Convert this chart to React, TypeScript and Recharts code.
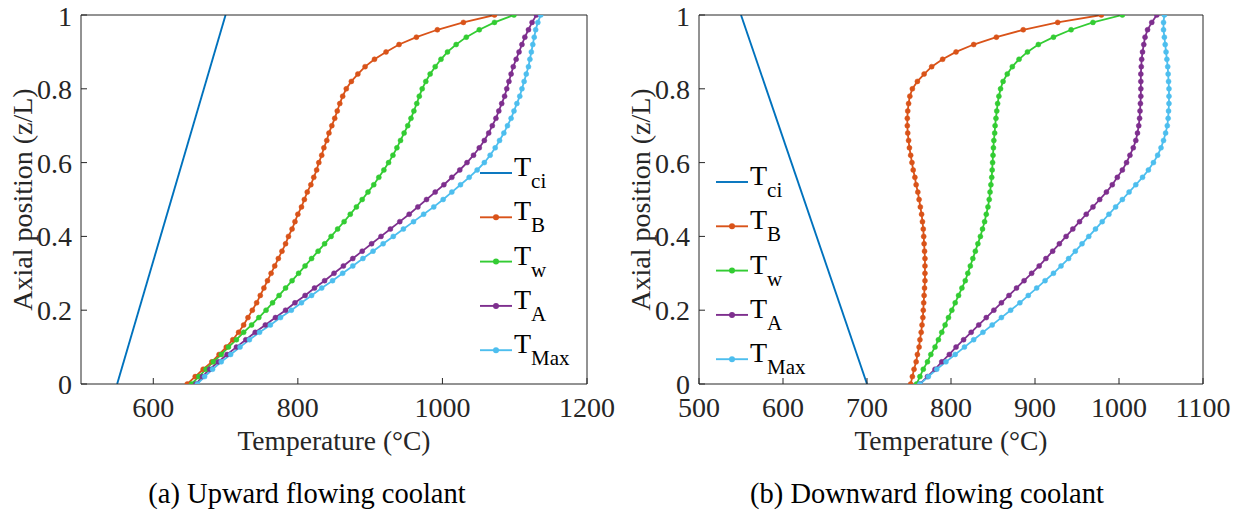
import { Legend, Line, LineChart, XAxis, YAxis } from 'recharts';

const FONT = '"Liberation Serif", "Times New Roman", serif';
const AXIS_COLOR = '#262626';

// axial positions (z/L) of the sampled points
const Z = [
  0, 0.02, 0.04, 0.06, 0.08, 0.1, 0.12, 0.14, 0.16, 0.18, 0.2, 0.22, 0.24, 0.26, 0.28, 0.3, 0.32,
  0.34, 0.36, 0.38, 0.4, 0.42, 0.44, 0.46, 0.48, 0.5, 0.52, 0.54, 0.56, 0.58, 0.6, 0.62, 0.64, 0.66,
  0.68, 0.7, 0.72, 0.74, 0.76, 0.78, 0.8, 0.82, 0.84, 0.86, 0.88, 0.9, 0.92, 0.94, 0.96, 0.98, 1,
];
const CI_Z = [0, 1];

// (a) upward flowing coolant
const UP_CI = [550, 700];
const UP_B = [
  647, 658, 669, 681, 691, 701, 710, 718, 725, 731, 737, 743, 748, 753, 758, 763, 768, 773, 778, 783,
  787, 792, 796, 800, 805, 809, 813, 818, 822, 826, 829, 833, 836, 840, 843, 847, 851, 854.5, 858, 862,
  867, 874, 883, 893, 906, 922, 940, 964, 993, 1029, 1072,
];
const UP_W = [
  653, 663, 673, 683, 694, 704, 715, 725, 736, 746, 756, 765, 774, 783, 792, 801, 810, 819, 828, 837,
  846, 855, 864, 872.5, 881, 889, 897, 905, 912, 919, 925.5, 931.5, 937, 942, 947, 952, 956.5, 960.5,
  964.5, 968, 972, 977, 983, 990, 998, 1007, 1019, 1033, 1051, 1072, 1099,
];
const UP_A = [
  659, 668, 678, 690, 702, 715, 728, 741, 755, 769, 783, 796, 810, 823, 837, 850, 863, 876, 889, 902,
  915, 928, 941, 954, 966, 978, 990, 1002, 1013, 1024, 1034, 1043, 1051, 1058, 1064, 1069, 1074, 1078,
  1082, 1086, 1089, 1092, 1095, 1098, 1102, 1106, 1110, 1114, 1119, 1124, 1130,
];
const UP_MAX = [
  661, 671, 682, 694, 707, 720, 733, 747, 762, 776, 791, 805, 819, 833, 848, 862, 876, 890, 904, 918,
  932, 946, 960, 974, 988, 1001, 1013, 1025, 1037, 1048, 1058, 1066, 1073, 1079, 1085, 1090, 1095,
  1099, 1103, 1107, 1110, 1113, 1116, 1119, 1121, 1123, 1125, 1127, 1129, 1132, 1136,
];

// (b) downward flowing coolant
const DOWN_CI = [700, 550];
const DOWN_B = [
  752, 754, 756, 758.5, 760, 762, 763, 764.5, 765.5, 766.5, 767, 767.5, 768, 768.5, 769, 769, 769, 769,
  768.5, 768, 767.5, 767, 766, 765, 763.5, 762, 760.5, 758.5, 757, 755, 753.5, 752, 750.5, 749.5, 748.5,
  748, 748, 748.5, 749.5, 751, 754, 760, 768, 777, 790, 806, 827, 854, 886, 927, 979,
];
const DOWN_W = [
  759, 763, 767, 772, 776, 781, 785, 789, 793, 797, 801, 805, 809, 813, 817, 820, 823, 826, 829, 832,
  835, 837.5, 840, 842, 844, 845.5, 846.5, 847.5, 848.5, 849, 849.5, 850, 850.5, 851, 852, 852.5, 853.5,
  854.5, 855.5, 857, 859, 862, 867, 873, 881, 891, 904, 922, 943, 969, 1004,
];
const DOWN_A = [
  763, 772, 781, 789, 798, 806, 815, 824, 833, 842, 851, 860, 869, 878, 887, 896, 905, 913, 921, 929,
  937, 945, 953, 961, 969, 977, 985, 992, 998, 1004, 1009, 1013, 1017, 1020, 1022, 1023.5, 1024.5, 1025,
  1025.5, 1026, 1026, 1026, 1026, 1026.5, 1027, 1028, 1029.5, 1031, 1034, 1039, 1045,
];
const DOWN_MAX = [
  763, 773, 783, 794, 805, 816, 827, 838, 849, 860, 871, 882, 892, 902, 912, 922, 931, 940, 948, 956,
  964, 972, 980, 988, 996, 1004, 1012, 1020, 1028, 1035, 1041, 1046, 1050, 1053, 1055.5, 1057.5, 1058.5,
  1059, 1059.5, 1059.5, 1059.5, 1059, 1058.5, 1058, 1057, 1056, 1055, 1054, 1053, 1053, 1054,
];

const Y_TICKS = [0, 0.2, 0.4, 0.6, 0.8, 1];
const UP_X_TICKS = [600, 800, 1000, 1200];
const DOWN_X_TICKS = [500, 600, 700, 800, 900, 1000, 1100];

const CI_COLOR = '#0072BD';
const SERIES = [
  { key: 'tB', sub: 'B', color: '#D95319' },
  { key: 'tW', sub: 'w', color: '#33CC33' },
  { key: 'tA', sub: 'A', color: '#7E2F8E' },
  { key: 'tMax', sub: 'Max', color: '#4DBEEE' },
];

const buildRows = (b: number[], w: number[], a: number[], m: number[]) =>
  Z.map((z, i) => ({ z, tB: b[i], tW: w[i], tA: a[i], tMax: m[i] }));
const buildCi = (ci: number[]) => CI_Z.map((z, i) => ({ z, tCi: ci[i] }));

const ROW_GAP = 44.3;
const LegendBox = () => {
  const items = [{ sub: 'ci', color: CI_COLOR, dot: false }, ...SERIES.map((s) => ({ ...s, dot: true }))];
  return (
    <svg width={150} height={230} style={{ display: 'block', overflow: 'visible' }}>
      {items.map((item, i) => {
        const y = 20 + i * ROW_GAP;
        return (
          <g key={item.sub}>
            <line x1={0} x2={32} y1={y} y2={y} stroke={item.color} strokeWidth={1.9} />
            {item.dot && <circle cx={16} cy={y} r={3} fill={item.color} />}
            <text x={34} y={y + 3} fontFamily={FONT} fontSize={28} fill="#000">
              T
              <tspan dy={12} fontSize={21}>
                {item.sub}
              </tspan>
            </text>
          </g>
        );
      })}
    </svg>
  );
};

const yTitle = (dx: number) => (props: any) => {
  const vb = props.viewBox;
  const x = vb.x + dx;
  const y = vb.y + vb.height / 2;
  return (
    <text
      x={x}
      y={y}
      transform={`rotate(-90 ${x} ${y})`}
      textAnchor="middle"
      dominantBaseline="central"
      fontFamily={FONT}
      fontSize={28}
      fill={AXIS_COLOR}
    >
      Axial position (z/L)
    </text>
  );
};

const xTitle = (props: any) => {
  const vb = props.viewBox;
  return (
    <text
      x={vb.x + vb.width / 2}
      y={vb.y + 56}
      textAnchor="middle"
      dominantBaseline="central"
      fontFamily={FONT}
      fontSize={27.5}
      fill={AXIS_COLOR}
    >
      Temperature (°C)
    </text>
  );
};

interface PanelProps {
  rows: Record<string, number>[];
  ciRows: Record<string, number>[];
  xDomain: [number, number];
  xTicks: number[];
  width: number;
  yAxisWidth: number;
  marginRight: number;
  titleDx: number;
  legendLeft: number;
  legendTop: number;
}

const Panel = ({
  rows,
  ciRows,
  xDomain,
  xTicks,
  width,
  yAxisWidth,
  marginRight,
  titleDx,
  legendLeft,
  legendTop,
}: PanelProps) => {
  const tickStyle = { fill: AXIS_COLOR, fontSize: 28, fontFamily: FONT };
  return (
    <LineChart
      width={width}
      height={521}
      data={rows}
      layout="vertical"
      margin={{ top: 10, right: marginRight, bottom: 67, left: 0 }}
    >
      <XAxis
        type="number"
        domain={xDomain}
        ticks={xTicks}
        allowDataOverflow
        tick={tickStyle}
        tickSize={-6}
        tickMargin={19}
        height={70}
        axisLine={{ stroke: AXIS_COLOR }}
        tickLine={{ stroke: AXIS_COLOR }}
        label={xTitle}
      />
      <XAxis
        xAxisId="top"
        orientation="top"
        type="number"
        domain={xDomain}
        ticks={xTicks}
        allowDataOverflow
        tick={false}
        tickSize={-6}
        height={5}
        axisLine={{ stroke: AXIS_COLOR }}
        tickLine={{ stroke: AXIS_COLOR }}
      />
      <YAxis
        type="number"
        dataKey="z"
        domain={[0, 1]}
        ticks={Y_TICKS}
        reversed
        allowDataOverflow
        tick={tickStyle}
        tickSize={-6}
        tickMargin={15}
        width={yAxisWidth}
        axisLine={{ stroke: AXIS_COLOR }}
        tickLine={{ stroke: AXIS_COLOR }}
        label={yTitle(titleDx)}
      />
      <YAxis
        yAxisId="right"
        orientation="right"
        type="number"
        domain={[0, 1]}
        ticks={Y_TICKS}
        reversed
        allowDataOverflow
        tick={false}
        tickSize={-6}
        width={10}
        axisLine={{ stroke: AXIS_COLOR }}
        tickLine={{ stroke: AXIS_COLOR }}
      />
      <Line
        data={ciRows}
        dataKey="tCi"
        type="linear"
        stroke={CI_COLOR}
        strokeWidth={1.9}
        dot={false}
        activeDot={false}
        isAnimationActive={false}
      />
      {SERIES.map((s) => (
        <Line
          key={s.key}
          dataKey={s.key}
          type="linear"
          stroke={s.color}
          strokeWidth={1.8}
          dot={{ r: 2.5, fill: s.color, stroke: s.color, strokeWidth: 0.5 }}
          activeDot={false}
          isAnimationActive={false}
        />
      ))}
      <Legend
        layout="vertical"
        align="center"
        verticalAlign="middle"
        content={() => <LegendBox />}
        wrapperStyle={{ left: legendLeft, top: legendTop, width: 150, height: 230 }}
      />
    </LineChart>
  );
};

const captionStyle = {
  position: 'absolute' as const,
  top: 478,
  width: 500,
  textAlign: 'center' as const,
  fontFamily: FONT,
  fontSize: 28.5,
  lineHeight: '32px',
  color: '#000',
};

export default function App() {
  return (
    <div
      style={{
        position: 'absolute',
        left: 0,
        top: 0,
        width: 1247,
        height: 521,
        background: '#fff',
        fontFamily: FONT,
      }}
    >
      <div style={{ position: 'absolute', left: 0, top: 0 }}>
        <Panel
          rows={buildRows(UP_B, UP_W, UP_A, UP_MAX)}
          ciRows={buildCi(UP_CI)}
          xDomain={[500, 1200]}
          xTicks={UP_X_TICKS}
          width={620}
          yAxisWidth={81}
          marginRight={23}
          titleDx={22}
          legendLeft={480}
          legendTop={153}
        />
      </div>
      <div style={{ position: 'absolute', left: 620, top: 0 }}>
        <Panel
          rows={buildRows(DOWN_B, DOWN_W, DOWN_A, DOWN_MAX)}
          ciRows={buildCi(DOWN_CI)}
          xDomain={[500, 1100]}
          xTicks={DOWN_X_TICKS}
          width={627}
          yAxisWidth={79}
          marginRight={34}
          titleDx={20}
          legendLeft={96}
          legendTop={162}
        />
      </div>
      <div style={{ ...captionStyle, left: 57 }}>(a) Upward flowing coolant</div>
      <div style={{ ...captionStyle, left: 677 }}>(b) Downward flowing coolant</div>
    </div>
  );
}
